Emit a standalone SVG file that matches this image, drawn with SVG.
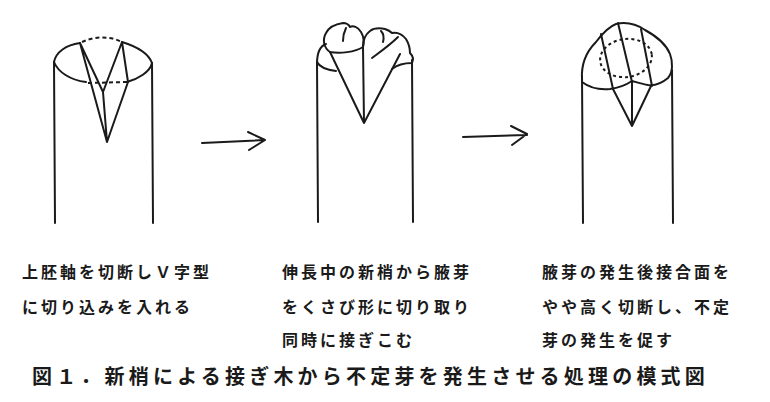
<svg xmlns="http://www.w3.org/2000/svg" width="770" height="402" viewBox="0 0 770 402">
<style>
.ln{fill:none;stroke:#1a1a1a;stroke-width:2;stroke-linecap:round;stroke-linejoin:round}
.ds{fill:none;stroke:#1a1a1a;stroke-width:2;stroke-dasharray:4 3}
.t{font-family:"Noto Sans CJK JP","Noto Sans CJK SC",sans-serif;font-weight:bold;font-size:16px;letter-spacing:3px;fill:#1a1a1a}
.cap{font-family:"Noto Sans CJK JP","Noto Sans CJK SC",sans-serif;font-weight:bold;font-size:20px;letter-spacing:4.2px;fill:#1a1a1a}
</style>
<rect width="770" height="402" fill="#fff"/>
<g id="stage1">
<path class="ln" d="M54,62 L55,223 M152,63 L153,223"/>
<path class="ln" d="M54,62 C56,52 66,45 80,43 M122,42 C135,46 148,52 152,63"/>
<path class="ds" d="M82,42 C95,36 110,36 122,42"/>
<path class="ln" d="M54,62 C58,72 70,80 86,82 M127,82 C138,79 150,72 152,63"/>
<path class="ds" d="M88,83 L127,82"/>
<path class="ln" d="M80,43 L107,142 M80,43 L103,92 M122,42 L103,92 M122,42 L128,82 L107,142 M103,92 L107,142"/>
</g>
<g id="stage2">
<path class="ln" d="M317,62 L318,222 M412,60 L413,222"/>
<path class="ln" d="M317,64 C317,52 320,46 326,44 M317,62 C320,68 328,70 336,71"/>
<path class="ln" d="M330,52 C324,48 322,40 326,33 C329,27 336,24 343,23 C347,23 349,25 350,27 C353,25 358,27 361,32 C364,37 364,43 363,47 M330,52 C340,54 355,52 363,47"/>
<path class="ln" d="M346,28 C344,32 343,37 343,41"/>
<path class="ln" d="M363,47 L364,123 M330,52 L364,123 L400,54"/>
<path class="ln" d="M363,47 C363,40 366,34 370,31 C374,28 380,28 385,29 C388,30 390,31 392,33 C397,32 402,34 406,39 C409,44 410,48 410,53 C413,56 414,59 412,63 C405,63 397,65 392,69"/>
<path class="ln" d="M381,31 C384,34 384,38 383,42 M372,58 C380,52 390,45 398,37"/>
</g>
<g id="stage3">
<path class="ln" d="M582,76 L583,223 M672,70 L673,223"/>
<path class="ln" d="M582,80 C581,66 586,52 596,42 C602,34 608,27 616,24 C625,22 636,24 645,30 C656,36 666,44 670,54 C673,62 673,72 668,78 C662,83 655,86 648,85 C642,84 636,82 632,81 C626,85 618,88 610,89 C600,90 590,88 582,82"/>
<path class="ln" d="M601,34 L613,89 M618,23 L632,82 M641,29 L652,86"/>
<path class="ln" d="M613,89 L632,126 L651,86 M632,82 L632,126"/>
<ellipse class="ds" cx="626" cy="58" rx="26" ry="19" transform="rotate(-8 626 58)" style="stroke-dasharray:3 3"/>
</g>
<g id="connectors">
<path class="ln" d="M202,143 L265,140 M248,132 L265,140 L249,150"/>
<path class="ln" d="M463,137 L527,135 M511,126 L527,134 L512,145"/>
</g>
<g id="label1">
<text class="t" x="22" y="278">上胚軸を切断しＶ字型</text>
<text class="t" x="22" y="313">に切り込みを入れる</text>
</g>
<g id="label2">
<text class="t" x="282" y="278">伸長中の新梢から腋芽</text>
<text class="t" x="282" y="313">をくさび形に切り取り</text>
<text class="t" x="282" y="346">同時に接ぎこむ</text>
</g>
<g id="label3">
<text class="t" x="542" y="278">腋芽の発生後接合面を</text>
<text class="t" x="542" y="313">やや高く切断し、不定</text>
<text class="t" x="542" y="346">芽の発生を促す</text>
</g>
<g id="caption">
<text class="cap" x="32" y="384">図１．新梢による接ぎ木から不定芽を発生させる処理の模式図</text>
</g>
</svg>
